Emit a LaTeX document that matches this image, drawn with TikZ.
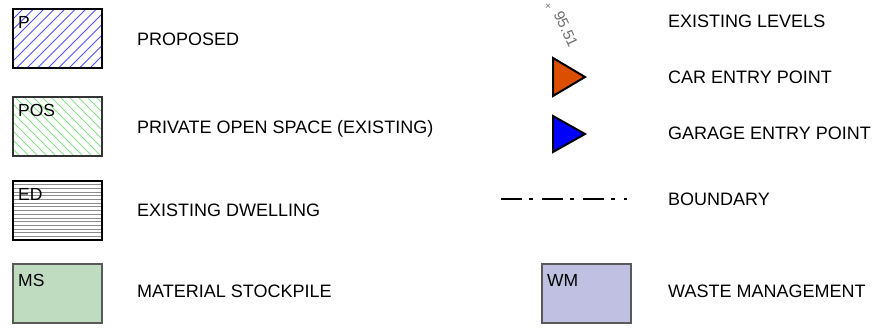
\documentclass[tikz,border=0pt]{standalone}
\usepackage{fontspec}
\setmainfont{Liberation Sans}
\definecolor{hatchblue}{RGB}{80,80,255}
\definecolor{hatchgreen}{RGB}{140,225,140}
\definecolor{hatchgray}{RGB}{140,140,140}
\definecolor{msgreen}{RGB}{192,220,192}
\definecolor{wmblue}{RGB}{192,192,226}
\definecolor{carorange}{RGB}{220,78,0}
\definecolor{levelgray}{RGB}{110,110,110}
\tikzset{
  swatch/.style={minimum width=89pt, minimum height=59pt, inner sep=0pt, outer sep=0pt, anchor=north west},
  boxlabel/.style={anchor=base west, inner sep=0pt, font=\fontsize{17.5}{19}\selectfont},
  legendtext/.style={anchor=base west, inner sep=0pt, font=\fontsize{18}{21}\selectfont},
  entrytri/.style={draw=black, line width=2pt, line join=miter},
}
\begin{document}
\begin{tikzpicture}[x=1pt,y=-1pt]
\useasboundingbox (0,0) rectangle (874,328);
% PROPOSED
\node[swatch, draw=black, line width=2pt,
  path picture={\foreach \k in {-70,-59.5,...,100}
    \draw[hatchblue, line width=0.8pt] ([xshift=\k pt]path picture bounding box.south west) -- ++(80pt,80pt);}] (P) at (12.5,9.5) {};
\node[boxlabel] (Plab) at (18,29) {P};
\node[legendtext] (Ptxt) at (137,46) {PROPOSED};
% POS
\node[swatch, draw=black!80, line width=1.3pt,
  path picture={\foreach \k in {-70,-61,...,100}
    \draw[hatchgreen, line width=0.8pt] ([xshift=\k pt]path picture bounding box.north west) -- ++(80pt,-80pt);}] (POS) at (13,97) {};
\node[boxlabel] (POSlab) at (18,117) {POS};
\node[legendtext] (POStxt) at (137,134) {PRIVATE OPEN SPACE (EXISTING)};
% ED
\node[swatch, draw=black, line width=2pt,
  path picture={\foreach \k in {3.7,7.4,...,58}
    \draw[hatchgray, line width=0.8pt] ([yshift=-\k pt]path picture bounding box.north west) -- ++(95pt,0pt);}] (ED) at (13,181) {};
\node[boxlabel] (EDlab) at (18,201) {ED};
\node[legendtext] (EDtxt) at (137,217) {EXISTING DWELLING};
% MS
\node[swatch, draw=black!65, fill=msgreen, line width=1.3pt] (MS) at (13,264) {};
\node[boxlabel] (MSlab) at (18,286) {MS};
\node[legendtext] (MStxt) at (137,298) {MATERIAL STOCKPILE};
% EXISTING LEVELS
\node[inner sep=0pt, text=levelgray, font=\fontsize{10}{12}\selectfont] (lvlx) at (548,7) {×};
\node[inner sep=0pt, text=levelgray, rotate=-65, font=\fontsize{15}{17}\selectfont] (lvl) at (566,29) {95.51};
\node[legendtext] (lvltxt) at (668,28) {EXISTING LEVELS};
% CAR ENTRY
\draw[entrytri, fill=carorange] (553,58) -- (553,96) -- (585,77) -- cycle;
\node[legendtext] (cartxt) at (668,84) {CAR ENTRY POINT};
% GARAGE ENTRY
\draw[entrytri, fill=blue] (553,116) -- (553,152) -- (585,134) -- cycle;
\node[legendtext] (gartxt) at (668,140) {GARAGE ENTRY POINT};
% BOUNDARY
\coordinate (b1) at (501,199);
\coordinate (b2) at (627,199);
\draw[line width=1.8pt, dash pattern=on 21pt off 7pt on 4pt off 9pt] (b1) -- (b2);
\node[legendtext] (bndtxt) at (668,206) {BOUNDARY};
% WM
\node[swatch, draw=black!65, fill=wmblue, line width=1.3pt] (WM) at (542,264) {};
\node[boxlabel] (WMlab) at (547,286) {WM};
\node[legendtext] (WMtxt) at (668,297) {WASTE MANAGEMENT};
\end{tikzpicture}
\end{document}
